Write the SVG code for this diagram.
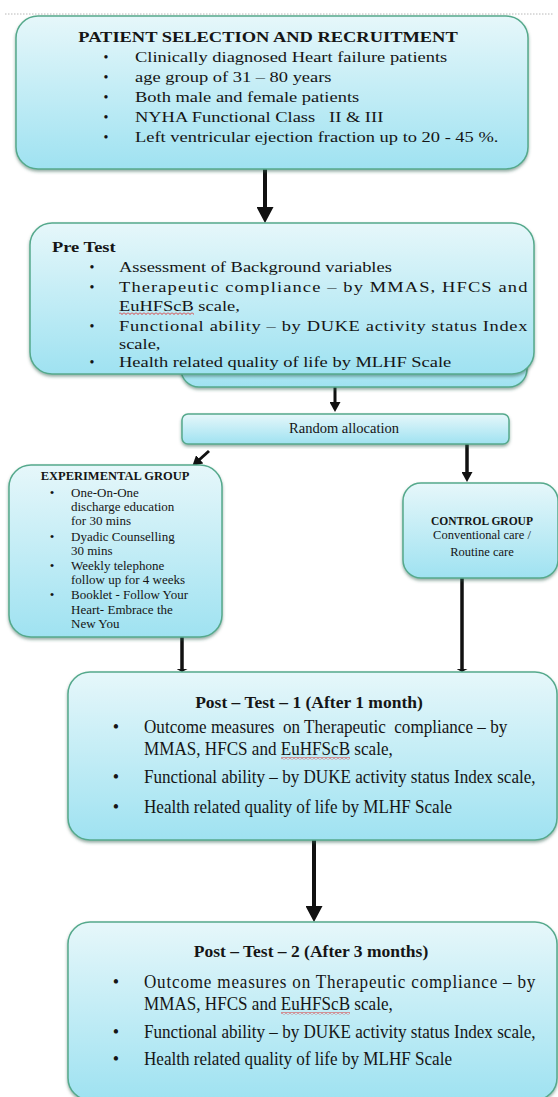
<svg xmlns="http://www.w3.org/2000/svg" width="558" height="1097" viewBox="0 0 558 1097">
<style>
.box{fill:url(#bg);stroke:#55a98c;stroke-width:1.5;filter:url(#sh)}
.t{font-family:"Liberation Serif","Times New Roman",serif;fill:#151515}
.b{font-weight:bold}
.c{text-anchor:middle}
.conn{stroke:#111;fill:none}
</style>
<defs>
<linearGradient id="bg" x1="0" y1="0" x2="0" y2="1">
<stop offset="0" stop-color="#e6f7fa"/>
<stop offset="1" stop-color="#9fe2f1"/>
</linearGradient>
<filter id="sh" x="-5%" y="-10%" width="110%" height="125%">
<feDropShadow dx="0" dy="2" stdDeviation="1.5" flood-color="#2f5f4f" flood-opacity="0.5"/>
</filter>
<marker id="ahL" markerUnits="userSpaceOnUse" markerWidth="17" markerHeight="17" refX="1" refY="8.5" orient="auto"><path d="M0,0 L16,8.5 L0,17 Z" fill="#111"/></marker>
<marker id="ahS" markerUnits="userSpaceOnUse" markerWidth="11" markerHeight="11" refX="1" refY="5.5" orient="auto"><path d="M0,0 L10,5.5 L0,11 Z" fill="#111"/></marker>
<marker id="tick" markerUnits="userSpaceOnUse" markerWidth="4" markerHeight="11" refX="0" refY="5.5" orient="auto"><path d="M0,0 L3,5.5 L0,11 Z" fill="#111"/></marker>
<pattern id="wave" width="4" height="3" patternUnits="userSpaceOnUse"><path d="M0,0.5 L2,2.5 L4,0.5" stroke="#e02020" fill="none" stroke-width="0.9"/></pattern>
</defs>
<rect width="558" height="1097" fill="#fff"/>
<line x1="5" y1="14" x2="553" y2="14" stroke="#b8b8b8" stroke-width="1" stroke-dasharray="1.5 1.5"/>

<g id="connectors">
<line class="conn" x1="265" y1="169" x2="265" y2="208" stroke-width="4" marker-end="url(#ahL)"/>
<line class="conn" x1="335" y1="386" x2="335" y2="403" stroke-width="3" marker-end="url(#ahS)"/>
<line class="conn" x1="209" y1="451" x2="199" y2="460" stroke-width="3" marker-end="url(#ahS)"/>
<line class="conn" x1="467" y1="444" x2="467" y2="473" stroke-width="3.5" marker-end="url(#ahS)"/>
<line class="conn" x1="182" y1="637" x2="182" y2="669" stroke-width="3.5" marker-end="url(#tick)"/>
<line class="conn" x1="462" y1="578" x2="462" y2="669" stroke-width="3.5" marker-end="url(#tick)"/>
<line class="conn" x1="314" y1="840" x2="314" y2="907" stroke-width="4" marker-end="url(#ahL)"/>
</g>

<g id="recruitment">
<rect class="box" x="16" y="16" width="512" height="153" rx="22"/>
<g transform="translate(268 0) scale(1.23 1)"><text class="t b c" x="0" y="42" font-size="15">PATIENT SELECTION AND RECRUITMENT</text></g>
<g font-size="14"><text class="t c" x="106" y="62">•</text><text class="t c" x="106" y="82">•</text><text class="t c" x="106" y="102">•</text><text class="t c" x="106" y="122">•</text><text class="t c" x="106" y="142">•</text></g>
<g transform="translate(135 0) scale(1.23 1)" font-size="15">
<text class="t" x="0" y="62">Clinically diagnosed Heart failure patients</text>
<text class="t" x="0" y="82">age group of 31 – 80 years</text>
<text class="t" x="0" y="102">Both male and female patients</text>
<text class="t" x="0" y="122">NYHA Functional Class&#160;&#160; II &amp; III</text>
<text class="t" x="0" y="142">Left ventricular ejection fraction up to 20 - 45 %.</text>
</g>
</g>

<g id="pretest">
<rect class="box" x="181" y="320" width="346" height="67" rx="18"/>
<rect class="box" x="30" y="223" width="504" height="151" rx="22"/>
<g transform="translate(52 0) scale(1.23 1)"><text class="t b" x="0" y="252" font-size="15">Pre Test</text></g>
<g font-size="14"><text class="t c" x="92" y="272">•</text><text class="t c" x="92" y="292">•</text><text class="t c" x="92" y="331">•</text><text class="t c" x="92" y="367">•</text></g>
<g transform="translate(119 0) scale(1.23 1)" font-size="15">
<text class="t" x="0" y="272">Assessment of Background variables</text>
<text class="t" x="0" y="292" textLength="332" lengthAdjust="spacing">Therapeutic compliance – by MMAS, HFCS and</text>
<text class="t" x="0" y="311">EuHFScB scale,</text>
<text class="t" x="0" y="331" textLength="332" lengthAdjust="spacing">Functional ability – by DUKE activity status Index</text>
<text class="t" x="0" y="349">scale,</text>
<text class="t" x="0" y="367">Health related quality of life by MLHF Scale</text>
</g>
<rect x="119" y="312" width="75" height="3" fill="url(#wave)"/>
</g>

<g id="random">
<rect class="box" x="182" y="414" width="327" height="30" rx="6"/>
<text class="t c" x="344" y="433" font-size="14.5">Random allocation</text>
</g>

<g id="experimental">
<rect class="box" x="9" y="465" width="213" height="172" rx="22"/>
<text class="t b c" x="115" y="480" font-size="12.5">EXPERIMENTAL GROUP</text>
<g font-size="13">
<text class="t c" x="52" y="497">•</text><text class="t c" x="52" y="541">•</text><text class="t c" x="52" y="570">•</text><text class="t c" x="52" y="599">•</text>
<text class="t" x="71" y="497">One-On-One</text>
<text class="t" x="71" y="511">discharge education</text>
<text class="t" x="71" y="525">for 30 mins</text>
<text class="t" x="71" y="541">Dyadic Counselling</text>
<text class="t" x="71" y="555">30 mins</text>
<text class="t" x="71" y="570">Weekly telephone</text>
<text class="t" x="71" y="584">follow up for 4 weeks</text>
<text class="t" x="71" y="599">Booklet - Follow Your</text>
<text class="t" x="71" y="614">Heart- Embrace the</text>
<text class="t" x="71" y="628">New You</text>
</g>
</g>

<g id="control">
<rect class="box" x="403" y="483" width="155" height="95" rx="18"/>
<text class="t b c" x="482" y="525" font-size="11.5">CONTROL GROUP</text>
<text class="t c" x="482" y="539" font-size="12.5">Conventional care /</text>
<text class="t c" x="482" y="556" font-size="12.5">Routine care</text>
</g>

<g id="posttest1">
<rect class="box" x="68" y="672" width="489" height="168" rx="22"/>
<text class="t b c" x="309" y="708" font-size="17.5">Post – Test – 1 (After 1 month)</text>
<g font-size="18"><text class="t c" x="116" y="733">•</text><text class="t c" x="116" y="783">•</text><text class="t c" x="116" y="813">•</text></g>
<g transform="translate(144 0) scale(0.95 1)" font-size="18">
<text class="t" x="0" y="733">Outcome measures&#160; on Therapeutic&#160; compliance – by</text>
<text class="t" x="0" y="755">MMAS, HFCS and EuHFScB scale,</text>
<text class="t" x="0" y="783">Functional ability – by DUKE activity status Index scale,</text>
<text class="t" x="0" y="813">Health related quality of life by MLHF Scale</text>
</g>
<rect x="281" y="757" width="69" height="3" fill="url(#wave)"/>
</g>

<g id="posttest2">
<rect class="box" x="68" y="922" width="489" height="178" rx="22"/>
<text class="t b c" x="311" y="957" font-size="17.5">Post – Test – 2 (After 3 months)</text>
<g font-size="18"><text class="t c" x="116" y="988">•</text><text class="t c" x="116" y="1038">•</text><text class="t c" x="116" y="1065">•</text></g>
<g transform="translate(144 0) scale(0.95 1)" font-size="18">
<text class="t" x="0" y="988" textLength="412" lengthAdjust="spacing">Outcome measures on Therapeutic compliance – by</text>
<text class="t" x="0" y="1010">MMAS, HFCS and EuHFScB scale,</text>
<text class="t" x="0" y="1038">Functional ability – by DUKE activity status Index scale,</text>
<text class="t" x="0" y="1065">Health related quality of life by MLHF Scale</text>
</g>
<rect x="281" y="1012" width="69" height="3" fill="url(#wave)"/>
</g>
</svg>
